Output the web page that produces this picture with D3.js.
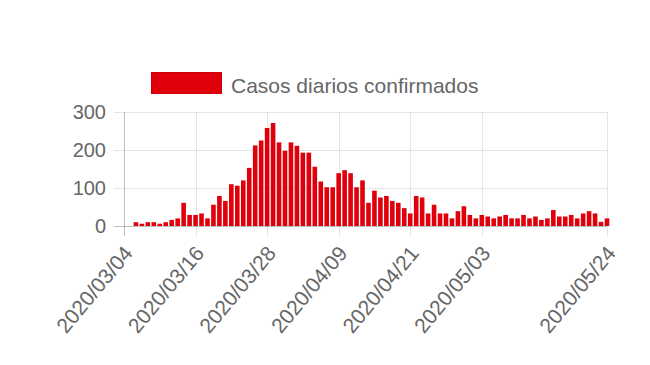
<!DOCTYPE html>
<html>
<head>
  <meta charset="utf-8">
  <script src="https://d3js.org/d3.v7.min.js"></script>
  <style>
    body { margin: 0; background: #fff; }
    svg text { font-family: "Liberation Sans", Arial, sans-serif; fill: #666; }
  </style>
</head>
<body>
  <div id="chart"></div>
  <script>
  // daily confirmed cases, one value per day from the first date
  var firstDay = "2020/03/04";
  var casos = [
    0, 0, 10, 6, 10, 10, 6, 10, 16, 20,
    61, 29, 29, 33, 20, 56, 79, 66, 110, 106,
    120, 153, 212, 225, 258, 271, 220, 198, 220, 211,
    193, 193, 156, 117, 102, 102, 139, 147, 139, 102,
    120, 61, 93, 75, 79, 66, 61, 47, 33, 79,
    75, 33, 56, 33, 33, 20, 39, 52, 29, 20,
    29, 25, 20, 25, 29, 20, 20, 29, 20, 25,
    16, 20, 42, 25, 25, 29, 20, 33, 39, 33,
    11, 20
  ];
  var tickLabels = ["2020/03/04", "2020/03/16", "2020/03/28", "2020/04/09",
                    "2020/04/21", "2020/05/03", "2020/05/24"];
  var yTicks = [0, 100, 200, 300];
  var seriesName = "Casos diarios confirmados";

  var parse = d3.timeParse("%Y/%m/%d");
  var start = parse(firstDay);
  var data = casos.map(function (v, i) {
    return { date: d3.timeDay.offset(start, i), value: v };
  });

  var width = 650, height = 365;
  var plotLeft = 124, plotRight = 607, plotTop = 112, plotBottom = 226;

  var svg = d3.select("#chart").append("svg")
    .attr("width", width)
    .attr("height", height);

  var x = d3.scaleTime()
    .domain([start, data[data.length - 1].date])
    .range([plotLeft, plotRight]);
  var y = d3.scaleLinear().domain([0, 300]).range([plotBottom, plotTop]);

  // horizontal grid + y labels
  svg.selectAll(".hgrid")
    .data(yTicks)
    .enter().append("line")
      .attr("x1", plotLeft - 10)
      .attr("x2", plotRight)
      .attr("y1", function (d) { return y(d) + 0.5; })
      .attr("y2", function (d) { return y(d) + 0.5; })
      .attr("stroke", function (d) { return d === 0 ? "rgba(0,0,0,0.25)" : "rgba(0,0,0,0.1)"; })
      .attr("stroke-width", 1);

  svg.selectAll(".ylab")
    .data(yTicks)
    .enter().append("text")
      .attr("x", plotLeft - 18)
      .attr("y", function (d) { return y(d); })
      .attr("dy", "0.36em")
      .attr("text-anchor", "end")
      .style("font-size", "20px")
      .text(function (d) { return d; });

  // vertical grid at tick dates
  var tickDates = tickLabels.map(parse);
  svg.selectAll(".vgrid")
    .data(tickDates)
    .enter().append("line")
      .attr("x1", function (d) { return Math.round(x(d)) + 0.5; })
      .attr("x2", function (d) { return Math.round(x(d)) + 0.5; })
      .attr("y1", plotTop)
      .attr("y2", plotBottom + 10)
      .attr("stroke", function (d, i) { return i === 0 ? "rgba(0,0,0,0.25)" : "rgba(0,0,0,0.1)"; })
      .attr("stroke-width", 1);

  svg.selectAll(".xlab")
    .data(tickDates)
    .enter().append("text")
      .attr("transform", function (d) {
        return "translate(" + (x(d) + 4) + "," + (plotBottom + 23) + ") rotate(-50)";
      })
      .attr("text-anchor", "end")
      .attr("dy", "0.36em")
      .style("font-size", "21px")
      .text(function (d, i) { return tickLabels[i]; });

  // bars
  var barW = 4.6;
  svg.selectAll(".bar")
    .data(data)
    .enter().append("rect")
      .attr("x", function (d) { return x(d.date) - barW / 2; })
      .attr("y", function (d) { return y(d.value); })
      .attr("width", barW)
      .attr("height", function (d) { return y(0) - y(d.value); })
      .attr("fill", "#e0000c");

  // legend
  svg.append("rect")
    .attr("x", 151.5)
    .attr("y", 72.5)
    .attr("width", 70)
    .attr("height", 21)
    .attr("fill", "#e0000c")
    .attr("stroke", "#cc000a");
  svg.append("text")
    .attr("x", 231)
    .attr("y", 93)
    .style("font-size", "21px")
    .text(seriesName);
  </script>
</body>
</html>
